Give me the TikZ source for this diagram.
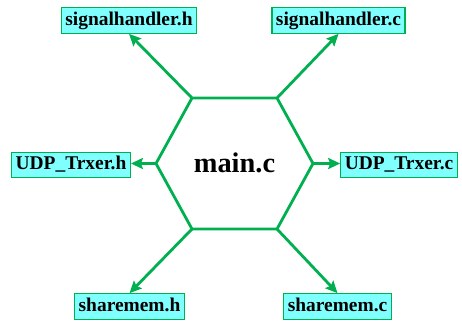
\documentclass[tikz,border=0pt]{standalone}
\usepackage{fontspec}
\setmainfont{Liberation Serif}
\usepackage{tikz}
\usetikzlibrary{arrows.meta}
\definecolor{linkgreen}{RGB}{0,176,80}
\definecolor{boxcyan}{RGB}{128,255,255}
\tikzset{>={Stealth[length=12bp,width=11bp,inset=2bp]}}
\tikzset{
  filebox/.style={draw=linkgreen,line width=1.2bp,fill=boxcyan,inner xsep=4bp,
    inner ysep=3bp,text height=14.5bp,text depth=5bp,
    font=\fontsize{19.5}{22}\selectfont\bfseries},
  link/.style={draw=linkgreen,line width=2.8bp,line join=miter}
}
\begin{document}
\begin{tikzpicture}[x=1bp,y=-1bp]
  \useasboundingbox (0,0) rectangle (462,322);
  % hexagon corners
  \coordinate (tl) at (192,98);
  \coordinate (tr) at (277,98);
  \coordinate (rt) at (313,163.5);
  \coordinate (br) at (277,229);
  \coordinate (bl) at (192,229);
  \coordinate (lt) at (156,163.5);
  \draw[link] (tl)--(tr)--(rt)--(br)--(bl)--(lt)--cycle;
  \node (main) at (234.5,163) {\fontsize{28.5}{32}\selectfont\bfseries main.c};
  % files
  \node[filebox] (sigh)  at (129,20.5)  {signalhandler.h};
  \node[filebox] (sigc)  at (338.5,20.5) {signalhandler.c};
  \node[filebox] (udph)  at (71,165)    {UDP\_Trxer.h};
  \node[filebox] (udpc)  at (399,165)   {UDP\_Trxer.c};
  \node[filebox] (shmh)  at (129.5,306.5) {sharemem.h};
  \node[filebox] (shmc)  at (337.5,306.5) {sharemem.c};
  % links
  \draw[link,->] (tl)--(sigh.south);
  \draw[link,->] (tr)--(sigc.south);
  \draw[link,->] (lt)--(udph.east |- lt);
  \draw[link,->] (rt)--(udpc.west |- rt);
  \draw[link,->] (bl)--(shmh.north);
  \draw[link,->] (br)--(shmc.north);
\end{tikzpicture}
\end{document}
